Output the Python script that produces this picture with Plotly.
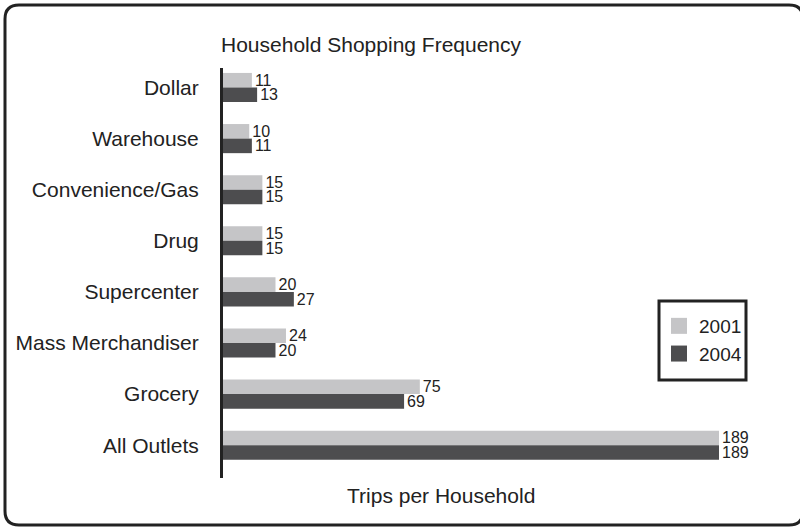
import plotly.graph_objects as go

categories = ["Dollar", "Warehouse", "Convenience/Gas", "Drug", "Supercenter",
              "Mass Merchandiser", "Grocery", "All Outlets"]
trips_2001 = [11, 10, 15, 15, 20, 24, 75, 189]
trips_2004 = [13, 11, 15, 15, 27, 20, 69, 189]
series_names = ["2001", "2004"]
colors = ["#c5c5c7", "#4d4d4f"]

W, H = 800, 527
L, R, T, B = 223, 10, 68, 49
PW, PH = W - L - R, H - T - B

def px(x):
    return (x - L) / PW

def py(y):
    return (H - B - y) / PH

fig = go.Figure()
for name, vals, c in zip(series_names, [trips_2001, trips_2004], colors):
    fig.add_trace(go.Bar(
        y=categories, x=vals, name=name, orientation="h",
        marker=dict(color=c, line=dict(width=0)),
        text=[str(v) for v in vals], textposition="outside",
        constraintext="none",
        textfont=dict(size=16, color="#222"), cliponaxis=False,
        showlegend=False,
    ))
# legend entries with larger square swatches
for name, c in zip(series_names, colors):
    fig.add_trace(go.Scatter(
        x=[None], y=[None], mode="markers", name=name,
        marker=dict(symbol="square", size=16, color=c), showlegend=True,
    ))

# rounded border path in paper coords
x0, x1, y0, y1, r = 5, 803, 5, 525, 14
def P(x, y):
    return f"{px(x):.5f},{py(y):.5f}"
path = (f"M {P(x0 + r, y0)} L {P(x1 - r, y0)} Q {P(x1, y0)} {P(x1, y0 + r)} "
        f"L {P(x1, y1 - r)} Q {P(x1, y1)} {P(x1 - r, y1)} "
        f"L {P(x0 + r, y1)} Q {P(x0, y1)} {P(x0, y1 - r)} "
        f"L {P(x0, y0 + r)} Q {P(x0, y0)} {P(x0 + r, y0)} Z")

# category axis: 51.1 px per category, first center 19.5 px below top
unit = 51.1
top_pad = 19.5 / unit
ymin = -top_pad
ymax = ymin + PH / unit

fig.update_layout(
    width=W, height=H,
    margin=dict(l=L, r=R, t=T, b=B),
    paper_bgcolor="white", plot_bgcolor="white",
    font=dict(family="Liberation Sans, Arial, sans-serif", color="#222", size=21),
    barmode="group", bargap=0.43, bargroupgap=0,
    showlegend=True,
    legend=dict(x=px(659), y=py(307), xanchor="left", yanchor="top",
                borderwidth=0, bgcolor="rgba(0,0,0,0)",
                font=dict(size=19), traceorder="normal", itemsizing="trace",
                tracegroupgap=0),
    xaxis=dict(range=[0, PW / (496 / 189)], showgrid=False, zeroline=False,
               showticklabels=False, showline=False, ticks=""),
    yaxis=dict(range=[ymax, ymin], showgrid=False, zeroline=False,
               showline=True, linecolor="#222", linewidth=3, ticks="",
               ticklabelstandoff=17, tickfont=dict(size=21)),
    shapes=[
        dict(type="path", xref="paper", yref="paper", path=path,
             line=dict(color="#222", width=3), fillcolor="rgba(0,0,0,0)",
             layer="above"),
        dict(type="rect", xref="paper", yref="paper",
             x0=px(659), x1=px(746), y0=py(380), y1=py(301),
             line=dict(color="#222", width=3), fillcolor="rgba(0,0,0,0)",
             layer="above"),
    ],
    annotations=[
        dict(text="Household Shopping Frequency", x=px(219), y=py(45),
             xref="paper", yref="paper", xanchor="left", yanchor="middle",
             showarrow=False, font=dict(size=21)),
        dict(text="Trips per Household", x=px(441), y=py(495),
             xref="paper", yref="paper", xanchor="center", yanchor="middle",
             showarrow=False, font=dict(size=21)),
    ],
)

fig.write_html("out.html")
